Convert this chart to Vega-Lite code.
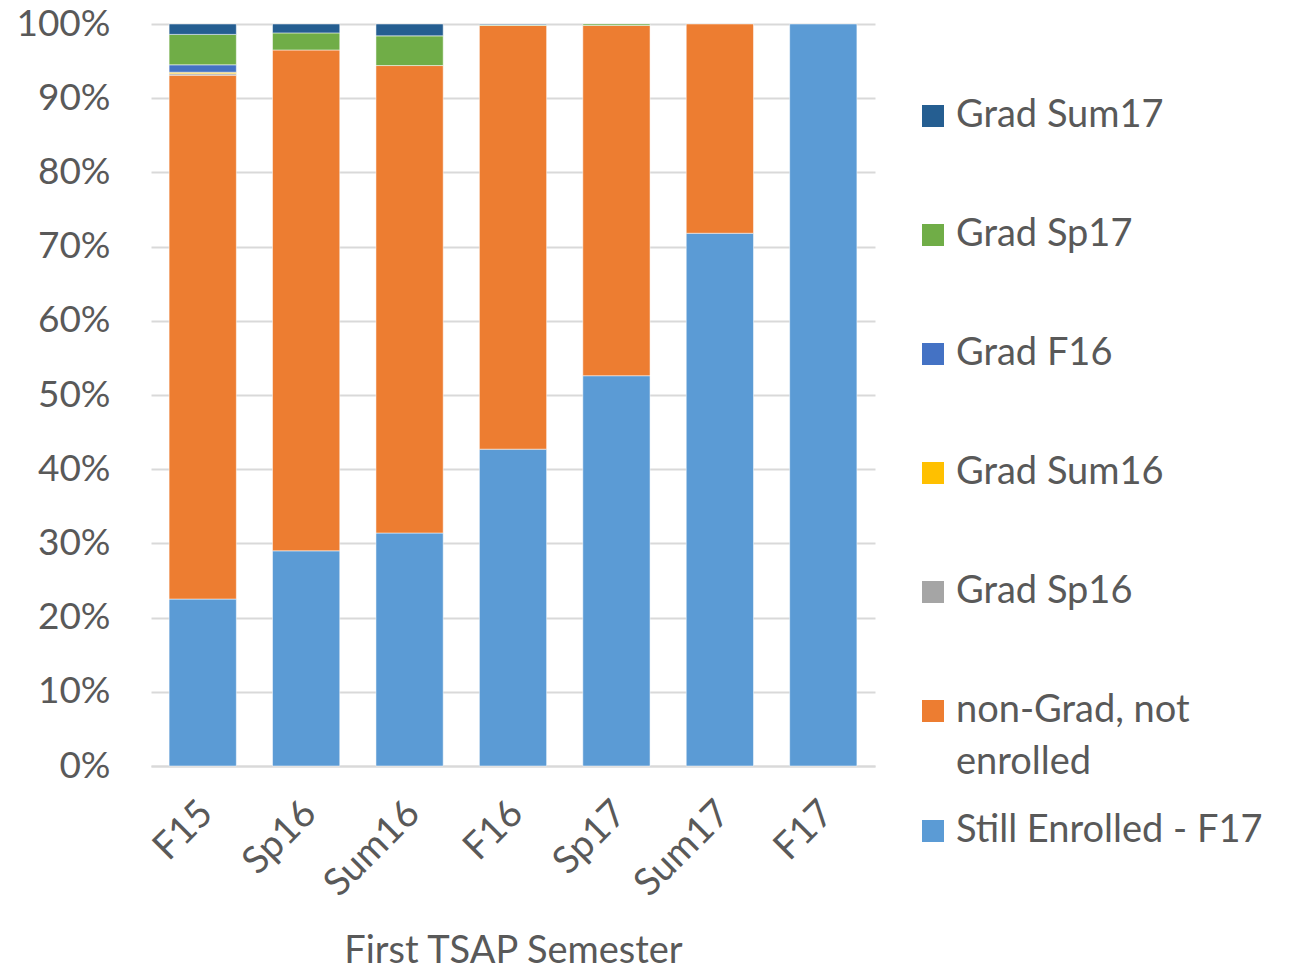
{
  "$schema": "https://vega.github.io/schema/vega-lite/v6.json",
  "width": 724,
  "height": 742,
  "autosize": {"type": "none"},
  "padding": {"left": 151, "top": 24, "right": 421, "bottom": 204},
  "background": "white",
  "config": {
    "font": "Lato",
    "view": {"stroke": null},
    "axis": {"labelColor": "#595959", "titleColor": "#595959", "labelFont": "Lato", "titleFont": "Lato", "titleFontWeight": "normal"},
    "legend": {"labelColor": "#595959", "labelFont": "Lato"},
    "style": {"guide-label": {"lineHeight": 52}}
  },
  "data": {
    "values": [
      {"sem": "F15", "series": "Still Enrolled - F17", "o": 1, "v": 22.5},
      {"sem": "F15", "series": "non-Grad, not enrolled", "o": 2, "v": 70.6},
      {"sem": "F15", "series": "Grad Sp16", "o": 3, "v": 0.2},
      {"sem": "F15", "series": "Grad Sum16", "o": 4, "v": 0.2},
      {"sem": "F15", "series": "Grad F16", "o": 5, "v": 1.0},
      {"sem": "F15", "series": "Grad Sp17", "o": 6, "v": 4.1},
      {"sem": "F15", "series": "Grad Sum17", "o": 7, "v": 1.4},
      {"sem": "Sp16", "series": "Still Enrolled - F17", "o": 1, "v": 29.0},
      {"sem": "Sp16", "series": "non-Grad, not enrolled", "o": 2, "v": 67.5},
      {"sem": "Sp16", "series": "Grad Sp17", "o": 6, "v": 2.3},
      {"sem": "Sp16", "series": "Grad Sum17", "o": 7, "v": 1.2},
      {"sem": "Sum16", "series": "Still Enrolled - F17", "o": 1, "v": 31.4},
      {"sem": "Sum16", "series": "non-Grad, not enrolled", "o": 2, "v": 63.0},
      {"sem": "Sum16", "series": "Grad Sp17", "o": 6, "v": 4.0},
      {"sem": "Sum16", "series": "Grad Sum17", "o": 7, "v": 1.6},
      {"sem": "F16", "series": "Still Enrolled - F17", "o": 1, "v": 42.7},
      {"sem": "F16", "series": "non-Grad, not enrolled", "o": 2, "v": 57.1},
      {"sem": "F16", "series": "Grad Sp17", "o": 6, "v": 0.1},
      {"sem": "F16", "series": "Grad Sum17", "o": 7, "v": 0.1},
      {"sem": "Sp17", "series": "Still Enrolled - F17", "o": 1, "v": 52.6},
      {"sem": "Sp17", "series": "non-Grad, not enrolled", "o": 2, "v": 47.2},
      {"sem": "Sp17", "series": "Grad Sp17", "o": 6, "v": 0.2},
      {"sem": "Sum17", "series": "Still Enrolled - F17", "o": 1, "v": 71.8},
      {"sem": "Sum17", "series": "non-Grad, not enrolled", "o": 2, "v": 28.2},
      {"sem": "F17", "series": "Still Enrolled - F17", "o": 1, "v": 100}
    ]
  },
  "encoding": {
    "x": {
      "field": "sem", "type": "nominal", "sort": null,
      "scale": {"paddingInner": 0.35, "paddingOuter": 0.175},
      "axis": {
        "title": "First TSAP Semester", "titleFontSize": 38, "titleY": 196, "titleBaseline": "alphabetic",
        "labelAngle": -45, "labelFontSize": 38, "labelPadding": 28, "labelOffset": -9, "ticks": false,
        "domainColor": "#D9D9D9", "domainWidth": 2
      }
    },
    "y": {
      "field": "v", "type": "quantitative", "stack": "normalize",
      "scale": {"domain": [0, 1]},
      "axis": {
        "title": null, "format": ".0%", "values": [0,0.1,0.2,0.3,0.4,0.5,0.6,0.7,0.8,0.9,1],
        "labelFontSize": 37, "labelPadding": 41, "ticks": false, "domain": false, "labelOverlap": false,
        "gridColor": "#D9D9D9", "gridWidth": 2
      }
    },
    "order": {"field": "o", "type": "quantitative", "sort": "ascending"}
  },
  "layer": [
    {
      "mark": {"type": "bar", "stroke": "white", "strokeWidth": 0.5},
      "encoding": {
        "fill": {
          "field": "series", "type": "nominal",
          "scale": {
            "domain": ["Grad Sum17", "Grad Sp17", "Grad F16", "Grad Sum16", "Grad Sp16", "non-Grad, not enrolled", "Still Enrolled - F17"],
            "range": ["#255E91", "#70AD47", "#4472C4", "#FFC000", "#A5A5A5", "#ED7D31", "#5B9BD5"]
          },
          "legend": {
            "title": null, "orient": "none", "legendX": 763, "legendY": 72,
            "values": ["Grad Sum17", "Grad Sp17", "Grad F16", "Grad Sum16", "Grad Sp16", "non-Grad, not enrolled"],
            "symbolType": "square", "symbolSize": 484, "symbolStrokeWidth": 0, "symbolOpacity": 1,
            "labelFontSize": 38, "labelOffset": 4, "rowPadding": 79, "clipHeight": 40, "labelLimit": 400,
            "labelExpr": "datum.label == 'non-Grad, not enrolled' ? ['non-Grad, not', 'enrolled'] : datum.label"
          }
        }
      }
    },
    {
      "transform": [{"filter": "datum.series == 'Still Enrolled - F17'"}],
      "mark": {"type": "bar", "opacity": 0},
      "encoding": {
        "fill": {
          "field": "series", "type": "nominal",
          "scale": {"domain": ["Still Enrolled - F17"], "range": ["#5B9BD5"]},
          "legend": {
            "title": null, "orient": "none", "legendX": 763, "legendY": 787,
            "symbolType": "square", "symbolSize": 484, "symbolStrokeWidth": 0, "symbolOpacity": 1,
            "clipHeight": 40,
            "labelFontSize": 38, "labelOffset": 4, "labelLimit": 400
          }
        }
      }
    }
  ],
  "resolve": {"scale": {"fill": "independent"}, "legend": {"fill": "independent"}}
}
